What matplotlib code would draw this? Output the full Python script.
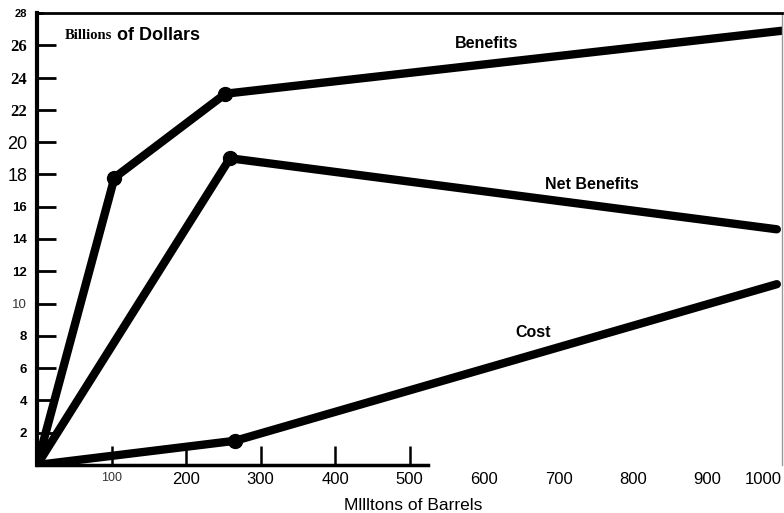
import matplotlib
matplotlib.use("Agg")
import matplotlib.pyplot as plt

# values (millions of barrels, billions of dollars)
benefits_x = [0, 104, 253, 1000]
benefits_y = [0, 17.8, 23.0, 26.9]
net_x = [0, 259, 993]
net_y = [0, 19.0, 14.6]
cost_x = [0, 266, 993]
cost_y = [0, 1.5, 11.2]

y_ticks = [2, 4, 6, 8, 10, 12, 14, 16, 18, 20, 22, 24, 26, 28]
x_ticks = [100, 200, 300, 400, 500, 600, 700, 800, 900, 1000]

SANS = "Liberation Sans"
SERIF = "Liberation Serif"

fig = plt.figure(figsize=(7.84, 5.13), dpi=100)
ax = fig.add_axes([0.0472, 0.0936, 0.9503, 0.8811])

lw = 6
ax.plot(benefits_x, benefits_y, color="black", lw=lw, solid_capstyle="round",
        solid_joinstyle="round")
ax.plot(benefits_x[1:3], benefits_y[1:3], "o", color="black", ms=10)
ax.plot(net_x, net_y, color="black", lw=lw, solid_capstyle="round",
        solid_joinstyle="round")
ax.plot(net_x[1:2], net_y[1:2], "o", color="black", ms=10)
ax.plot(cost_x, cost_y, color="black", lw=lw, solid_capstyle="round",
        solid_joinstyle="round")
ax.plot(cost_x[1:2], cost_y[1:2], "o", color="black", ms=10)

ax.set_xlim(0, 1000)
ax.set_ylim(0, 28)

# spines, like the scanned original
ax.spines["left"].set_linewidth(3)
ax.spines["bottom"].set_linewidth(2.5)
ax.spines["bottom"].set_bounds(0, 525)
ax.spines["top"].set_linewidth(2)
ax.spines["right"].set_linewidth(1)
ax.spines["right"].set_color("#999999")

# y ticks with the mixed fonts of the scan
ax.set_yticks(y_ticks)
ax.tick_params(axis="y", direction="in", length=14, width=2, pad=7)
ax.set_yticklabels([str(v) for v in y_ticks])
for lab, v in zip(ax.get_yticklabels(), y_ticks):
    if v in (22, 24, 26):
        lab.set_fontfamily(SERIF)
        lab.set_fontweight("bold")
        lab.set_fontsize(12)
    elif v in (18, 20):
        lab.set_fontfamily(SANS)
        lab.set_fontsize(13)
    elif v == 10:
        lab.set_fontfamily(SANS)
        lab.set_fontsize(9.5)
        lab.set_color("#333333")
    elif v == 28:
        lab.set_fontfamily(SANS)
        lab.set_fontweight("bold")
        lab.set_fontsize(8)
    else:
        lab.set_fontfamily(SANS)
        lab.set_fontweight("bold")
        lab.set_fontsize(9.5)
ytl = ax.yaxis.get_major_ticks()
ytl[-1].tick1line.set_markersize(4)

ax.set_xticks(x_ticks)
ax.tick_params(axis="x", direction="in", length=14, width=1.8, pad=5)
ax.set_xticklabels([str(v) for v in x_ticks])
for i, (lab, v) in enumerate(zip(ax.get_xticklabels(), x_ticks)):
    lab.set_fontfamily(SANS)
    if v == 100:
        lab.set_fontsize(9)
        lab.set_color("#333333")
    else:
        lab.set_fontsize(12)
    if v == 1000:
        lab.set_horizontalalignment("right")
    if v > 500:
        ax.xaxis.get_major_ticks()[i].tick1line.set_visible(False)

ax.set_xlabel("Mllltons of Barrels", fontfamily=SANS, fontsize=12.5)
ax.xaxis.set_label_coords(0.505, -0.073)
ax.xaxis.label.set_verticalalignment("top")

# heading inside the plot
ax.text(37, 26.6, "Billions", fontfamily=SERIF, fontweight="bold", fontsize=10.5,
        va="center", ha="left")
ax.text(107, 26.6, "of Dollars", fontfamily=SANS, fontweight="bold", fontsize=13,
        va="center", ha="left")

ax.text(604, 26.1, "Benefits", fontfamily=SANS, fontweight="bold", fontsize=11.5,
        ha="center", va="center")
ax.text(745, 17.4, "Net Benefits", fontfamily=SANS, fontweight="bold", fontsize=11.5,
        ha="center", va="center")
ax.text(666, 8.2, "Cost", fontfamily=SANS, fontweight="bold", fontsize=11.5,
        ha="center", va="center")

fig.savefig("out.png", dpi=100)
